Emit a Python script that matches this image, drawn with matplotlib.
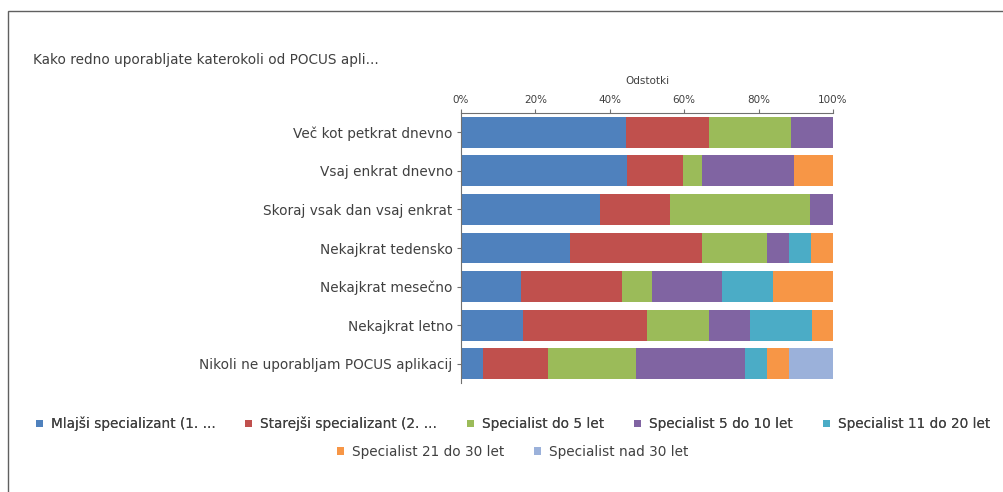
import matplotlib
matplotlib.use("Agg")
import matplotlib.pyplot as plt
from matplotlib.patches import Rectangle, Patch
import numpy as np

plt.rcParams['font.family'] = ['DejaVu Sans']

title = "Kako redno uporabljate katerokoli od POCUS apli..."
axis_title = "Odstotki"

categories = [
    "Več kot petkrat dnevno",
    "Vsaj enkrat dnevno",
    "Skoraj vsak dan vsaj enkrat",
    "Nekajkrat tedensko",
    "Nekajkrat mesečno",
    "Nekajkrat letno",
    "Nikoli ne uporabljam POCUS aplikacij",
]

series_names = [
    "Mlajši specializant (1. ...",
    "Starejši specializant (2. ...",
    "Specialist do 5 let",
    "Specialist 5 do 10 let",
    "Specialist 11 do 20 let",
    "Specialist 21 do 30 let",
    "Specialist nad 30 let",
]

# Share of respondents (%) per category, one list per group
mlajsi_spec   = [44.4, 44.7, 37.5, 29.4, 16.2, 16.7, 5.9]
starejsi_spec = [22.2, 14.9, 18.8, 35.3, 27.0, 33.3, 17.6]
spec_do5      = [22.2, 5.3, 37.5, 17.6, 8.1, 16.7, 23.5]
spec_5_10     = [11.2, 24.6, 6.2, 5.9, 18.9, 11.1, 29.4]
spec_11_20    = [0.0, 0.0, 0.0, 5.9, 13.6, 16.6, 5.9]
spec_21_30    = [0.0, 10.5, 0.0, 5.9, 16.2, 5.6, 5.9]
spec_nad30    = [0.0, 0.0, 0.0, 0.0, 0.0, 0.0, 11.8]

series = [mlajsi_spec, starejsi_spec, spec_do5, spec_5_10,
          spec_11_20, spec_21_30, spec_nad30]

colors = ["#4F81BD", "#C0504D", "#9BBB59", "#8064A2",
          "#4BACC6", "#F79646", "#9BB1DA"]

text_color = "#404040"
label_size = 9.8
tick_size = 7.5

fig = plt.figure(figsize=(10.04, 4.92), dpi=100)

# outer frame of the chart area
fig.patches.append(Rectangle((8 / 1004, -0.1), 1.2, 1 - 11 / 492 + 0.1,
                             transform=fig.transFigure, fill=False,
                             edgecolor="#606060", linewidth=1.0))

ax = fig.add_axes([461 / 1004, 1 - 383 / 492, 372 / 1004, 270 / 492])

y = np.arange(len(categories))
left = np.zeros(len(categories))
for name, vals, c in zip(series_names, series, colors):
    vals = np.array(vals)
    ax.barh(y, vals, left=left, height=0.8, color=c, label=name,
            edgecolor="none")
    left += vals

ax.set_xlim(0, 100)
ax.set_ylim(len(categories) - 0.5, -0.5)
ax.set_yticks(y)
ax.set_yticklabels(categories, fontsize=label_size, color=text_color)
ax.set_xticks(np.arange(0, 101, 20))
ax.set_xticklabels([f"{v}%" for v in range(0, 101, 20)], fontsize=tick_size,
                   color=text_color)
ax.xaxis.tick_top()
ax.xaxis.set_label_position("top")
ax.set_xlabel(axis_title, fontsize=tick_size, color=text_color, labelpad=8)
ax.tick_params(axis="both", length=3, width=0.8, color="#707070", pad=3)
for s in ["right", "bottom"]:
    ax.spines[s].set_visible(False)
for s in ["top", "left"]:
    ax.spines[s].set_color("#707070")
    ax.spines[s].set_linewidth(0.8)

fig.text(33 / 1004, 1 - 60 / 492, title, fontsize=label_size,
         color=text_color, va="center", ha="left")

handles = [Patch(facecolor=c, edgecolor="none") for c in colors]
legend_kw = dict(loc="center", frameon=False, fontsize=label_size,
                 handlelength=0.5, handleheight=0.5, handletextpad=0.6,
                 columnspacing=2.2, labelcolor=text_color)
leg1 = fig.legend(handles[:5], series_names[:5], ncol=5,
                  bbox_to_anchor=(513 / 1004, 1 - 424 / 492), **legend_kw)
leg2 = fig.legend(handles[5:], series_names[5:], ncol=2,
                  bbox_to_anchor=(513 / 1004, 1 - 452 / 492), **legend_kw)
fig.add_artist(leg1)

fig.savefig("out.png", dpi=100)
